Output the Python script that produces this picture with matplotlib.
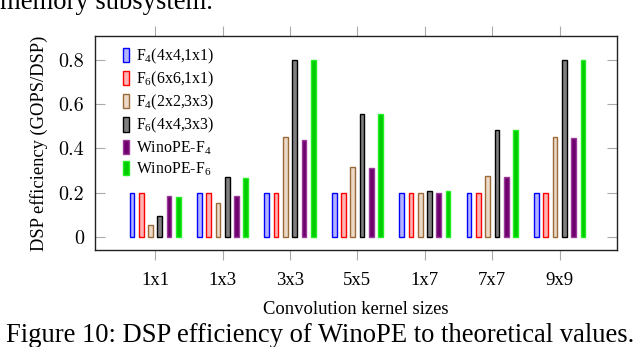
import matplotlib
matplotlib.use("Agg")
import matplotlib.pyplot as plt
import numpy as np

plt.rcParams['mathtext.fontset'] = 'custom'
plt.rcParams['mathtext.rm'] = 'Liberation Serif'
plt.rcParams['mathtext.it'] = 'Liberation Serif:italic'
plt.rcParams['font.family'] = ['Liberation Serif', 'DejaVu Serif']

categories = ["1x1", "1x3", "3x3", "5x5", "1x7", "7x7", "9x9"]
series_names = [r"F$_\mathrm{4}$(4x4,1x1)", r"F$_\mathrm{6}$(6x6,1x1)",
                r"F$_\mathrm{4}$(2x2,3x3)", r"F$_\mathrm{6}$(4x4,3x3)",
                r"WinoPE-F$_\mathrm{4}$", r"WinoPE-F$_\mathrm{6}$"]
f4_4x4_1x1 = [0.2, 0.2, 0.2, 0.2, 0.2, 0.2, 0.2]
f6_6x6_1x1 = [0.2, 0.2, 0.2, 0.2, 0.2, 0.2, 0.2]
f4_2x2_3x3 = [0.053, 0.153, 0.45, 0.315, 0.2, 0.275, 0.451]
f6_4x4_3x3 = [0.093, 0.27, 0.8, 0.555, 0.209, 0.483, 0.8]
winope_f4 = [0.184, 0.184, 0.44, 0.31, 0.2, 0.272, 0.448]
winope_f6 = [0.18, 0.265, 0.8, 0.555, 0.206, 0.483, 0.8]
yticks = [0, 0.2, 0.4, 0.6, 0.8]
ytick_labels = ["0", "0.2", "0.4", "0.6", "0.8"]

series = [f4_4x4_1x1, f6_6x6_1x1, f4_2x2_3x3, f6_4x4_3x3, winope_f4, winope_f6]
edges = ['#0000ff', '#ff0000', '#9a6a3a', '#000000', '#9a3a9a', '#22ee22']
fills = ['#b3b3ff', '#ffb3b3', '#ecd9c6', '#808080', '#6e006e', '#00cc00']

W, H = 640, 347
fig = plt.figure(figsize=(6.4, 3.47), dpi=100)
ax = fig.add_axes([95 / W, (H - 250) / H, (617 - 95) / W, (250 - 36) / H])

x = np.arange(1, len(categories) + 1)
step = 0.138
bw = 0.07
for i, (vals, ec, fc, name) in enumerate(zip(series, edges, fills, series_names)):
    off = (i - 2.5) * step
    ax.bar(x + off, vals, width=bw, color=fc, edgecolor=ec, linewidth=1.0, label=name)

ax.set_xlim(0.108, 7.85)
ax.set_ylim(-0.059, 0.908)
ax.set_xticks(x)
ax.set_xticklabels(categories, fontsize=13.5)
ax.set_yticks(yticks)
ax.set_yticklabels(ytick_labels, fontsize=14.5, family='cmr10')
ax.tick_params(axis='x', direction='out', top=True, bottom=True, length=7.5,
               color='#aaaaaa', width=0.8, pad=8)
ax.tick_params(axis='y', direction='in', left=True, right=True, length=7,
               color='#aaaaaa', width=0.8, pad=8)
for s in ax.spines.values():
    s.set_linewidth(1.0)
    s.set_color('#222222')

ax.set_ylabel("DSP efficiency (GOPS/DSP)", fontsize=13.3, labelpad=7)
ax.set_xlabel("Convolution kernel sizes", fontsize=13.4, labelpad=9)

leg = ax.legend(loc='upper left', bbox_to_anchor=(0.054, 0.95), frameon=False,
                fontsize=11.4, handlelength=0.35, handleheight=1.0,
                handletextpad=0.45, labelspacing=0.25, borderpad=0, borderaxespad=0)

fig.text(0.5, (H - 342) / H, "Figure 10: DSP efficiency of WinoPE to theoretical values.",
         ha='center', va='baseline', fontsize=19.2)
fig.text(0.0, (H - 9) / H, "memory subsystem.", ha='left', va='baseline', fontsize=19.2)

fig.savefig("out.png", dpi=100)
